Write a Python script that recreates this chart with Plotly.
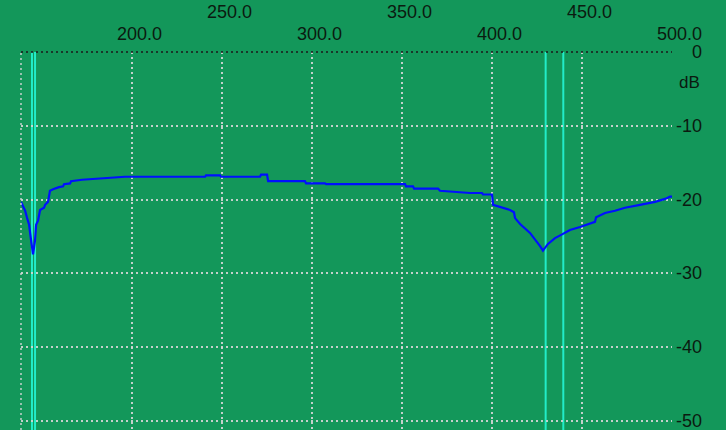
"""
频谱响应图 - 绿色示波器风格
"""
import plotly.graph_objects as go

# 频率 (x) 与 电平 dB (y)
freq = [138.3, 139.4, 140.6, 141.7, 142.8, 143.9, 145.0, 146.1, 146.7, 147.8,
        148.9, 151.1, 151.7, 153.3, 153.9, 154.4, 156.1, 159.4, 161.7, 162.2,
        165.6, 166.1, 172.2, 179.4, 185.6, 196.1, 240.6, 241.1, 248.9, 249.4,
        271.1, 271.7, 275.0, 275.6, 296.1, 296.7, 307.2, 307.8, 351.7, 352.2,
        356.1, 356.7, 370.0, 371.1, 387.8, 394.4, 395.0, 400.0, 400.6, 404.4,
        410.0, 412.2, 412.8, 415.6, 421.1, 426.7, 428.3, 431.1, 435.0, 438.9,
        443.3, 448.9, 454.4, 457.2, 457.8, 462.8, 468.3, 473.9, 482.2, 490.6,
        496.1, 498.9, 500.0]
level_db = [-20.3, -20.9, -21.5, -22.5, -23.4, -25.5, -27.4, -25.5, -23.4, -22.8,
            -21.4, -21.1, -20.7, -20.3, -19.0, -18.8, -18.6, -18.3, -18.2, -17.9,
            -17.8, -17.5, -17.3, -17.2, -17.1, -16.9, -16.9, -16.7, -16.7, -16.9,
            -16.9, -16.6, -16.6, -17.5, -17.5, -17.8, -17.8, -17.9, -17.9, -18.2,
            -18.2, -18.5, -18.5, -18.8, -19.1, -19.1, -19.3, -19.3, -20.7, -21.0,
            -21.4, -21.7, -22.5, -23.3, -24.5, -26.3, -26.9, -26.0, -25.2, -24.7,
            -24.1, -23.7, -23.3, -23.0, -22.4, -21.8, -21.5, -21.1, -20.7, -20.3,
            -19.9, -19.6, -19.6]

# 光标位置
marker_freqs = [144.4, 146.1, 429.8, 439.6]

x_ticks = [200, 250, 300, 350, 400, 450, 500]
x_tick_labels = ["200.0", "250.0", "300.0", "350.0", "400.0", "450.0", "500.0"]
y_ticks = [0, -10, -20, -30, -40, -50]
y_tick_labels = ["0", "-10", "-20", "-30", "-40", "-50"]

BG = '#13975a'
GRID = 'rgba(215,215,215,0.9)'
TXT = '#0b1a10'
FONT = 'Liberation Sans, Arial, sans-serif'

fig = go.Figure()

# 光标竖线
for f in marker_freqs:
    fig.add_vline(x=f, line=dict(color='#22ecc8', width=2), layer='below')

fig.add_trace(go.Scatter(
    x=freq, y=level_db, mode='lines',
    line=dict(color='#0010ff', width=2.2),
    showlegend=False, hoverinfo='skip'
))

# 边框
fig.add_shape(type='line', xref='paper', yref='paper', x0=0, x1=1, y0=1, y1=1,
              line=dict(color='#1a1a1a', width=1.5, dash='2px,3px'))
fig.add_shape(type='line', xref='paper', yref='paper', x0=0, x1=0, y0=0, y1=1,
              line=dict(color=GRID, width=1.5, dash='2px,3px'))
fig.add_shape(type='line', xref='x', yref='paper', xsizemode='pixel', xanchor=500,
              x0=3, x1=3, y0=0, y1=1,
              line=dict(color=GRID, width=1.5, dash='2px,3px'))

# x 轴标签（两行交错）
for i, (v, t) in enumerate(zip(x_ticks, x_tick_labels)):
    fig.add_annotation(x=v, y=1, xref='x', yref='paper', text=t, showarrow=False,
                       xanchor='center', yanchor='middle', xshift=7.5,
                       yshift=18 if i % 2 == 0 else 40,
                       font=dict(family=FONT, size=18, color=TXT))

# y 轴标签
for v, t in zip(y_ticks, y_tick_labels):
    fig.add_annotation(x=1, y=v, xref='paper', yref='y', text=t, showarrow=False,
                       xanchor='right', yanchor='middle', xshift=32,
                       font=dict(family=FONT, size=18, color=TXT))
fig.add_annotation(x=1, y=1, xref='paper', yref='paper', text='dB', showarrow=False,
                   xanchor='right', yanchor='middle', xshift=30, yshift=-30,
                   font=dict(family=FONT, size=17, color=TXT))

fig.update_xaxes(range=[138.3, 500], tickvals=x_ticks, showticklabels=False,
                 showgrid=True, gridcolor=GRID, gridwidth=1.5, griddash='2px,3px',
                 zeroline=False, showline=False, ticks='')
fig.update_yaxes(range=[-51.2, 0], tickvals=y_ticks[1:], showticklabels=False,
                 showgrid=True, gridcolor=GRID, gridwidth=1.5, griddash='2px,3px',
                 zeroline=False, showline=False, ticks='')

fig.update_layout(
    width=726, height=430,
    margin=dict(l=21, r=54, t=52, b=0),
    paper_bgcolor=BG, plot_bgcolor=BG,
    showlegend=False
)

# 去掉页面 body 默认的 8px 边距，让图贴齐窗口；隐藏工具栏
fig.write_html("out.html", config={'displayModeBar': False},
               post_script="document.body.style.margin='0';")
